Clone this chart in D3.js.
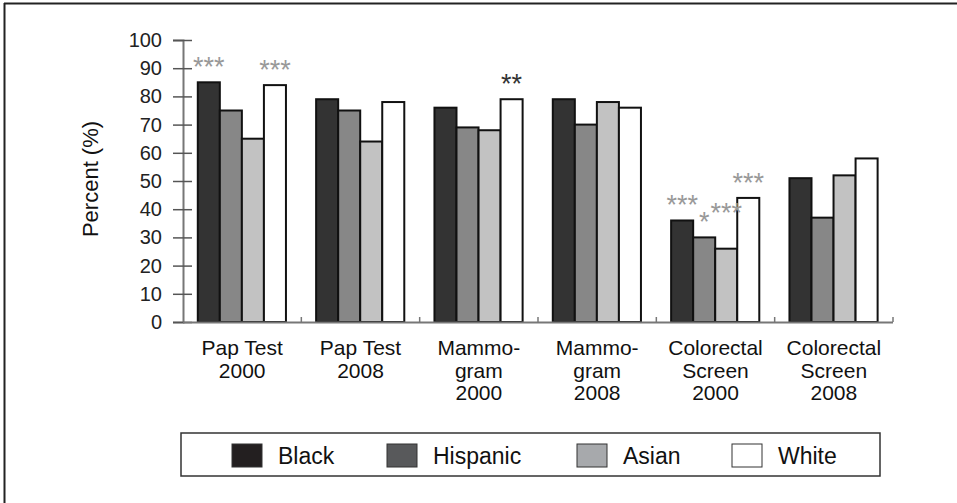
<!DOCTYPE html>
<html>
<head>
<meta charset="utf-8">
<script src="https://cdn.jsdelivr.net/npm/d3@7"></script>
<style>
  body { margin: 0; background: #fff; }
  text { font-family: "Liberation Sans", Arial, sans-serif; }
</style>
</head>
<body>
<svg id="chart" width="957" height="503"></svg>
<script>
// screening categories (x labels are split into lines)
var categories = ["Pap Test 2000", "Pap Test 2008", "Mammogram 2000", "Mammogram 2008", "Colorectal Screen 2000", "Colorectal Screen 2008"];
var categoryLines = [["Pap Test", "2000"], ["Pap Test", "2008"], ["Mammo-", "gram", "2000"], ["Mammo-", "gram", "2008"], ["Colorectal", "Screen", "2000"], ["Colorectal", "Screen", "2008"]];
var groups = ["Black", "Hispanic", "Asian", "White"];

// percent values per group, one per category
var black    = [85, 79, 76, 79, 36, 51];
var hispanic = [75, 75, 69, 70, 30, 37];
var asian    = [65, 64, 68, 78, 26, 52];
var white    = [84, 78, 79, 76, 44, 58];

var yTicks = [0, 10, 20, 30, 40, 50, 60, 70, 80, 90, 100];

// significance marks: [category index, group, label]
var marks = [
  [0, "Black", "***"], [0, "White", "***"],
  [2, "White", "**"],
  [4, "Black", "***"], [4, "Hispanic", "*"], [4, "Asian", "***"], [4, "White", "***"]
];

var seriesValues = { Black: black, Hispanic: hispanic, Asian: asian, White: white };
var fills = { Black: "#333333", Hispanic: "#878787", Asian: "#c2c2c2", White: "#ffffff" };
var legendFills = { Black: "#231f20", Hispanic: "#58595b", Asian: "#a7a9ac", White: "#ffffff" };

var svg = d3.select("#chart");

// frame lines (top and left)
svg.append("line").attr("x1", 4).attr("y1", 3.5).attr("x2", 957).attr("y2", 3.5)
  .attr("stroke", "#222").attr("stroke-width", 2);
svg.append("line").attr("x1", 4.5).attr("y1", 3).attr("x2", 4.5).attr("y2", 503)
  .attr("stroke", "#222").attr("stroke-width", 2);

var x0 = d3.scaleBand().domain(categories).range([183, 893]);
var x1 = d3.scaleBand().domain(groups)
  .range([x0.bandwidth() * 0.125, x0.bandwidth() * 0.87]);
var y = d3.scaleLinear().domain([0, 100]).range([322, 40]);

// bars
var g = svg.append("g");
categories.forEach(function(cat, ci){
  var cg = g.append("g").attr("transform", "translate(" + x0(cat) + ",0)");
  groups.forEach(function(grp){
    var v = seriesValues[grp][ci];
    cg.append("rect")
      .attr("x", x1(grp)).attr("y", y(v))
      .attr("width", x1.bandwidth()).attr("height", y(0) - y(v))
      .attr("fill", fills[grp]).attr("stroke", "#111").attr("stroke-width", 2);
  });
});

// y axis
var yAxis = svg.append("g").attr("transform", "translate(183,0)")
  .call(d3.axisLeft(y).tickValues(yTicks).tickSize(10).tickPadding(11));
yAxis.select(".domain").attr("stroke", "#777").attr("stroke-width", 2);
yAxis.selectAll(".tick line").attr("stroke", "#555").attr("stroke-width", 1.5).attr("x2", -10).attr("x1", 9);
yAxis.selectAll(".tick text").attr("font-size", 20).attr("fill", "#222")
  .attr("font-family", "Liberation Sans, Arial, sans-serif");

// x axis line with small up ticks at band edges
svg.append("line").attr("x1", 183).attr("x2", 893).attr("y1", y(0) + 0.5).attr("y2", y(0) + 0.5)
  .attr("stroke", "#777").attr("stroke-width", 2);
categories.forEach(function(cat){
  var xe = x0(cat) + x0.bandwidth();
  svg.append("line").attr("x1", xe).attr("x2", xe).attr("y1", y(0)).attr("y2", y(0) - 5)
    .attr("stroke", "#777").attr("stroke-width", 1.5);
});

// x labels
categoryLines.forEach(function(lines, ci){
  var t = svg.append("text").attr("text-anchor", "middle")
    .attr("x", x0(categories[ci]) + x0.bandwidth() / 2).attr("y", 355)
    .attr("font-size", 21).attr("fill", "#111");
  lines.forEach(function(l, li){
    t.append("tspan").attr("x", x0(categories[ci]) + x0.bandwidth() / 2)
      .attr("dy", li === 0 ? 0 : 22.5).text(l);
  });
});

// y label
svg.append("text").attr("transform", "translate(98,179) rotate(-90)")
  .attr("text-anchor", "middle").attr("font-size", 22).attr("fill", "#111")
  .text("Percent (%)");

// significance asterisks
marks.forEach(function(m){
  var cat = categories[m[0]];
  var v = seriesValues[m[1]][m[0]];
  var lift = (m[0] === 4 && m[1] === "Asian") ? 30 : 9;
  var cx = x0(cat) + x1(m[1]) + x1.bandwidth() / 2;
  svg.append("text").attr("x", cx).attr("y", y(v) - lift + 3)
    .attr("text-anchor", "middle").attr("font-size", 27)
    .attr("fill", m[2] === "**" ? "#333" : "#999")
    .text(m[2]);
});

// legend
svg.append("rect").attr("x", 181).attr("y", 433).attr("width", 699).attr("height", 43)
  .attr("fill", "none").attr("stroke", "#333").attr("stroke-width", 1.5);
var legendX = [232, 387, 577, 732];
groups.forEach(function(grp, i){
  svg.append("rect").attr("x", legendX[i]).attr("y", 444).attr("width", 30).attr("height", 23)
    .attr("fill", legendFills[grp]).attr("stroke", "#333").attr("stroke-width", 1);
  svg.append("text").attr("x", legendX[i] + 46).attr("y", 464)
    .attr("font-size", 23).attr("fill", "#111").text(grp);
});
</script>
</body>
</html>
